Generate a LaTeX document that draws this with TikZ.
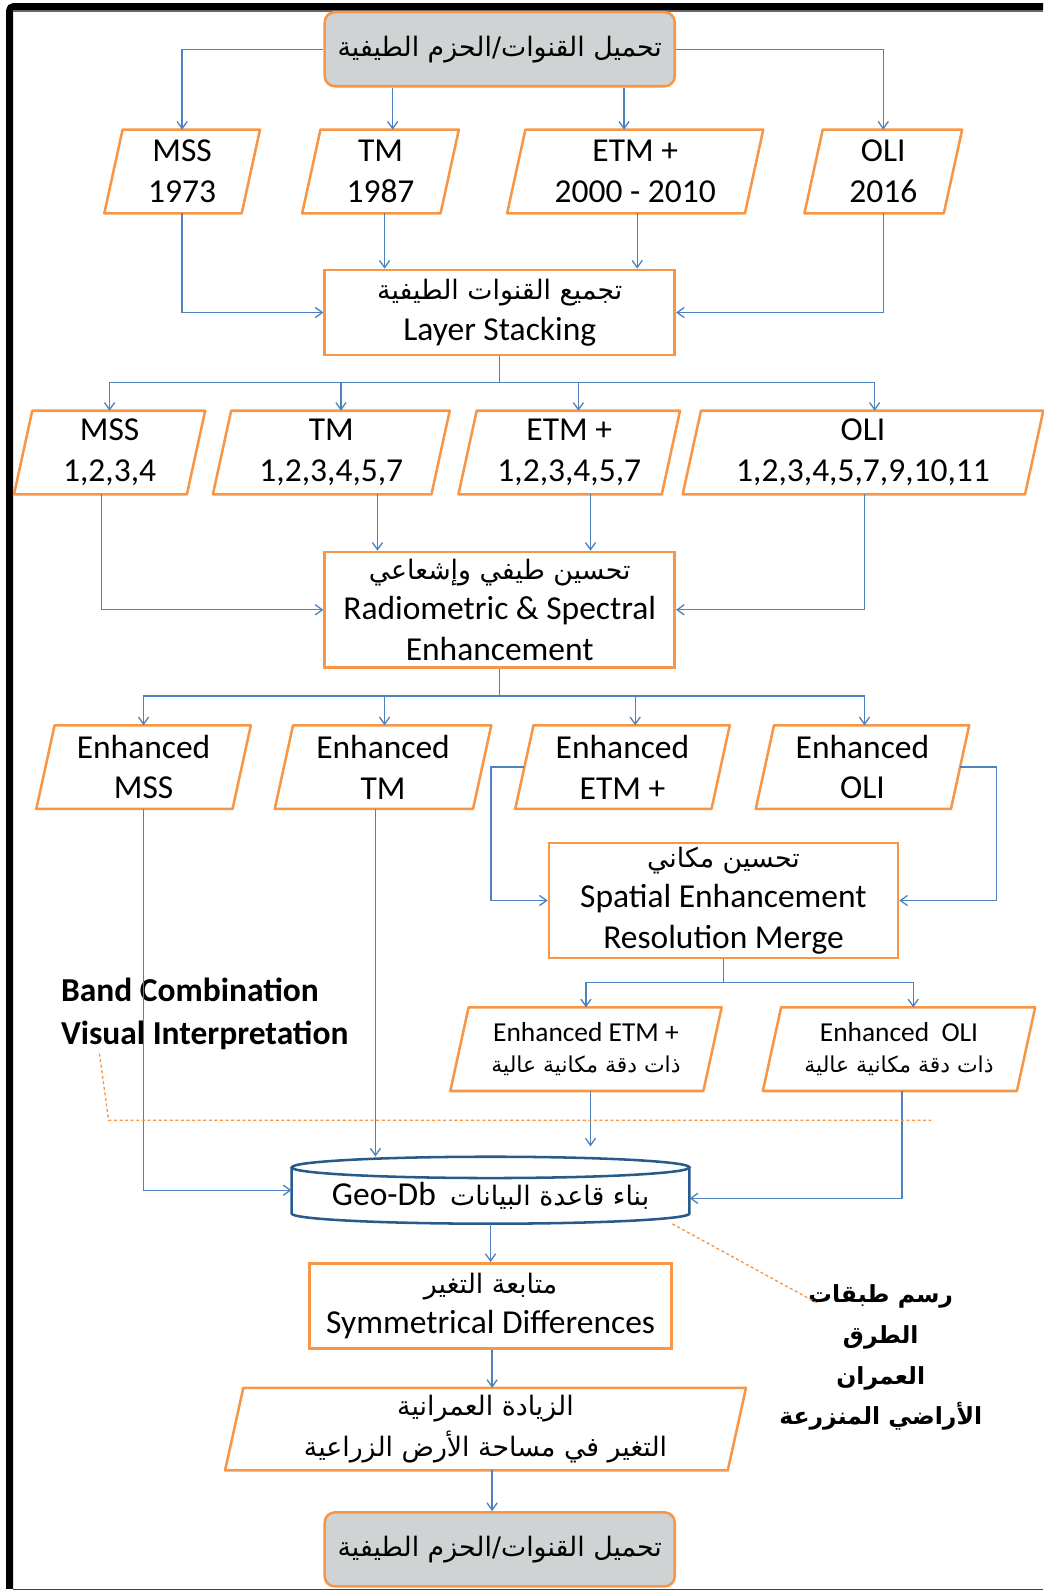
\documentclass[tikz,border=0pt]{standalone}
\usepackage{fontspec}
\setmainfont{Carlito}
\newfontfamily\arfont[Script=Arabic,Scale=0.8]{DejaVu Sans}
\TeXXeTstate=1
\usetikzlibrary{arrows.meta,calc}
\definecolor{orng}{RGB}{247,150,70}
\definecolor{blu}{RGB}{79,129,189}
\definecolor{gry}{RGB}{208,211,212}
\definecolor{cylblue}{RGB}{40,90,140}
\newcommand{\artxt}[1]{{\arfont\beginR #1\endR}}
\begin{document}
\begin{tikzpicture}[x=1pt,y=-1pt,
  every node/.style={inner sep=0pt, align=center, font=\fontsize{33}{40}\selectfont},
  arr/.style={draw=blu, line width=1.3pt, -{Straight Barb[length=7pt,width=10pt]}},
  ln/.style={draw=blu, line width=1.3pt},
  sbox/.style={draw=orng, line width=2.5pt},
  rbox/.style={draw=orng, line width=2.5pt, fill=gry, rounded corners=10pt},
  para/.style={minimum height=82},
  pline/.style={draw=orng, line width=2.5pt, line join=round},
  dsh/.style={draw=orng, line width=1.3pt, dash pattern=on 3pt off 2.5pt},
  small/.style={font=\fontsize{27}{31}\selectfont}
]
\useasboundingbox (0,0) rectangle (1028,1568);
% frame
\draw[line width=7pt, rounded corners=4pt] (9.5,1566) -- (9.5,6.5) -- (1028,6.5);
\draw[black!60, line width=1.2pt] (13,10.8) -- (1028,10.8);
\draw[black!75, line width=1.6pt] (13,1566.5) -- (1028,1566.5);

% nodes
\node[rbox, minimum width=345, minimum height=73] (top) at (492.5,48.5) {\artxt{تحميل القنوات\hbox{/}الحزم الطيفية}};

\node[para, minimum width=153] (mss1) at (179.5,169) {MSS\\1973};
\node[para, minimum width=154] (tm1) at (375,169) {TM\\1987};
\node[para, minimum width=252] (etm1) at (626,169) {ETM +\\2000 - 2010};
\node[para, minimum width=155] (oli1) at (870.5,169) {OLI\\2016};

\node[sbox, minimum width=345, minimum height=84] (layer) at (492.5,308) {\artxt{تجميع القنوات الطيفية}\\Layer Stacking};

\node[para, minimum width=188] (mss2) at (108,446) {MSS\\1,2,3,4};
\node[para, minimum width=233] (tm2) at (326.5,446) {TM\\1,2,3,4,5,7};
\node[para, minimum width=218] (etm2) at (561,446) {ETM +\\1,2,3,4,5,7};
\node[para, minimum width=355] (oli2) at (850.5,446) {OLI\\1,2,3,4,5,7,9,10,11};

\node[sbox, minimum width=345, minimum height=114] (rad) at (492.5,601) {\artxt{تحسين طيفي وإشعاعي}\\Radiometric \& Spectral\\Enhancement};

\node[para, minimum width=211] (mss3) at (141.5,756) {Enhanced\\MSS};
\node[para, minimum width=213] (tm3) at (377.5,756) {Enhanced\\TM};
\node[para, minimum width=211] (etm3) at (613.5,756) {Enhanced\\ETM +};
\node[para, minimum width=210] (oli3) at (850,756) {Enhanced\\OLI};

\node[sbox, minimum width=344, minimum height=113] (spat) at (713,887.5) {\artxt{تحسين مكاني}\\Spatial Enhancement\\Resolution Merge};

\node[para, small, minimum width=267] (etm4) at (577.5,1034) {Enhanced ETM +\\\artxt{ذات دقة مكانية عالية}};
\node[para, small, minimum width=268] (oli4) at (886,1034) {Enhanced\ \ OLI\\\artxt{ذات دقة مكانية عالية}};

% cylinder
\draw[cylblue, line width=2.5pt, fill=white] (287.5,1150.5) -- (287.5,1196) arc[start angle=180, end angle=0, x radius=196, y radius=10] -- (679.5,1150.5);
\draw[cylblue, line width=2.5pt, fill=white] (483.5,1150.5) ellipse[x radius=196, y radius=10.5];
\node[minimum width=392, minimum height=66] (geodb) at (483.5,1173) {};
\node (geodbtxt) at ([yshift=-6pt]geodb.center) {Geo-Db\hspace{14pt}\artxt{بناء قاعدة البيانات}};

\node[sbox, minimum width=357, minimum height=84] (sym) at (483.5,1287) {\artxt{متابعة التغير}\\Symmetrical Differences};

\node[para, minimum width=513, minimum height=81] (res) at (478.5,1408.5) {\artxt{الزيادة العمرانية}\\\artxt{التغير في مساحة الأرض الزراعية}};

\node[rbox, minimum width=345, minimum height=73] (bot) at (492.5,1527) {\artxt{تحميل القنوات\hbox{/}الحزم الطيفية}};

% parallelogram outlines
\foreach \n in {mss1,tm1,etm1,oli1,mss2,tm2,etm2,oli2,mss3,tm3,etm3,oli3,etm4,oli4,res}
  \draw[pline] (\n.south west) -- ([xshift=18pt]\n.north west) -- (\n.north east) -- ([xshift=-18pt]\n.south east) -- cycle;

% labels
\node[anchor=west, align=left, font=\bfseries\fontsize{33}{42}\selectfont] (band) at (60,999) {Band Combination\\Visual Interpretation};
\node[font=\arfont\bfseries\fontsize{29}{40}\selectfont] (lbl) at (868,1338) {\beginR رسم طبقات\endR\\\beginR الطرق\endR\\\beginR العمران\endR\\\beginR الأراضي المنزرعة\endR};

% connectors
\draw[arr] (top.west) -| (mss1.north);
\draw[arr] (387,0 |- top.south) -- (387,0 |- tm1.north);
\draw[arr] (615,0 |- top.south) -- (615,0 |- etm1.north);
\draw[arr] (top.east) -| (oli1.north);

\draw[arr] (mss1.south) |- (layer.west);
\draw[arr] (379,0 |- tm1.south) -- (379,0 |- layer.north);
\draw[arr] (628,0 |- etm1.south) -- (628,0 |- layer.north);
\draw[arr] (oli1.south) |- (layer.east);

\coordinate (j2) at (492.5,377);
\draw[ln] (layer.south) -- (j2);
\draw[arr] (j2) -| (mss2.north);
\draw[arr] (j2) -| (336,0 |- tm2.north);
\draw[arr] (j2) -| (570,0 |- etm2.north);
\draw[arr] (j2) -| (862,0 |- oli2.north);

\draw[arr] (100,0 |- mss2.south) |- (rad.west);
\draw[arr] (372,0 |- tm2.south) -- (372,0 |- rad.north);
\draw[arr] (582,0 |- etm2.south) -- (582,0 |- rad.north);
\draw[arr] (852,0 |- oli2.south) |- (rad.east);

\coordinate (j3) at (492.5,686);
\draw[ln] (rad.south) -- (j3);
\draw[arr] (j3) -| (mss3.north);
\draw[arr] (j3) -| (379,0 |- tm3.north);
\draw[arr] (j3) -| (626,0 |- etm3.north);
\draw[arr] (j3) -| (852,0 |- oli3.north);

\draw[arr] ([xshift=9pt]etm3.west) -- ++(-33,0) |- (spat.west);
\draw[arr] ([xshift=-9pt]oli3.east) -- ++(36,0) |- (spat.east);

\coordinate (j4) at (713,968);
\draw[ln] (spat.south) -- (j4);
\draw[arr] (j4) -| (etm4.north);
\draw[arr] (j4) -| (900,0 |- oli4.north);

\draw[arr] (mss3.south) |- (geodb.west);
\draw[arr] (370,0 |- tm3.south) -- (370,0 |- geodb.north);
\draw[arr, shorten >=10pt] (582,0 |- etm4.south) -- (582,0 |- geodb.north);
\draw[arr] (889,0 |- oli4.south) |- (geodb.east |- 0,1181);

\draw[arr] (geodb.south) -- (sym.north);
\draw[arr] (485,0 |- sym.south) -- (485,0 |- res.north);
\draw[arr] (485,0 |- res.south) -- (485,0 |- bot.north);

% dashed annotation lines
\coordinate (d1) at (107,1104);
\draw[dsh] ([xshift=38pt,yshift=-4pt]band.south west) -- (d1) -- ++(811,0);
\coordinate (d2) at (805,1284);
\draw[dsh] ([xshift=-17pt]geodb.south east) -- (d2);
\end{tikzpicture}
\end{document}
